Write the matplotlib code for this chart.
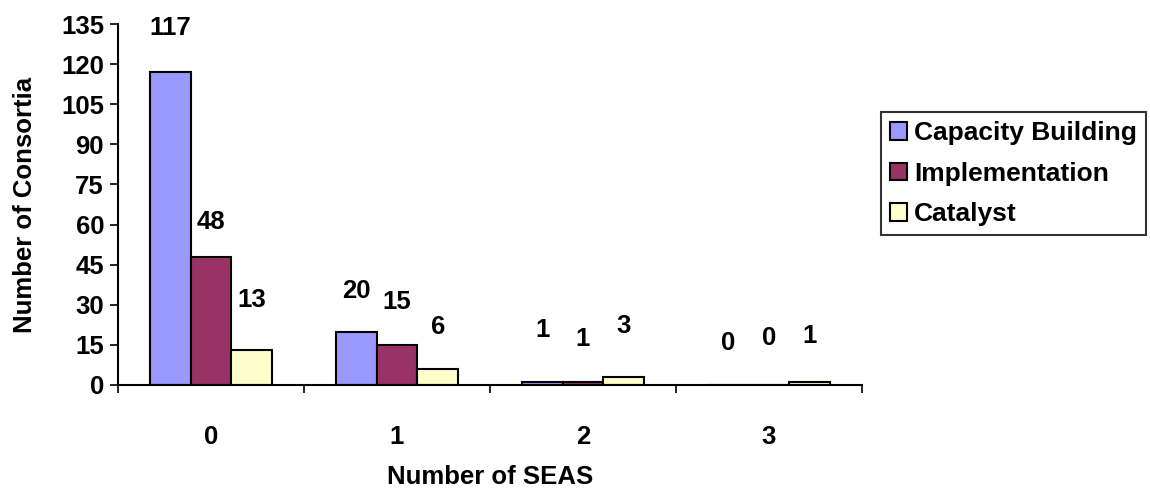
import numpy as np
import matplotlib.pyplot as plt

plt.rcParams['font.family'] = ['Liberation Sans', 'DejaVu Sans']
plt.rcParams['font.weight'] = 'bold'

seas = ['0', '1', '2', '3']
capacity = [117, 20, 1, 0]
implementation = [48, 15, 1, 0]
catalyst = [13, 6, 3, 1]

series = [('Capacity Building', capacity, '#9999FF'),
          ('Implementation', implementation, '#993366'),
          ('Catalyst', catalyst, '#FFFFCC')]

# label offsets above each bar (points), per series
label_dy = [[32, 29, 38, 30],
            [25, 31, 31, 34],
            [36, 30, 37, 33]]

fs = 18.5

fig = plt.figure(figsize=(11.5, 4.92), dpi=100)
ax = fig.add_axes([0.1026, 0.2175, 0.6470, 0.7335])

x = np.arange(len(seas))
w = 0.22
for i, (name, vals, col) in enumerate(series):
    pos = x + (i - 1) * w
    ax.bar(pos, vals, w, color=col, edgecolor='black', linewidth=1.5, label=name)
    for j, v in enumerate(vals):
        ax.annotate(str(v), (pos[j], v), xytext=(0, label_dy[i][j]),
                    textcoords='offset points', ha='center', va='center',
                    fontsize=fs, fontweight='bold')

ax.set_xlim(-0.5, len(seas) - 0.5)
ax.set_ylim(0, 135)
ax.set_yticks(np.arange(0, 136, 15))
ax.set_xticks(x)
ax.set_xticklabels(seas)
ax.set_xticks(np.arange(-0.5, len(seas)), minor=True)
ax.tick_params(axis='x', which='major', length=0, pad=29, labelsize=fs)
ax.tick_params(axis='x', which='minor', length=6, width=1.2, direction='out')
ax.tick_params(axis='y', length=6, width=1.2, direction='out', labelsize=fs, pad=4)
for s in ['top', 'right']:
    ax.spines[s].set_visible(False)
for s in ['left', 'bottom']:
    ax.spines[s].set_linewidth(1.5)

ax.set_xlabel('Number of SEAS', fontsize=fs, fontweight='bold', labelpad=11)
ax.set_ylabel('Number of Consortia', fontsize=fs, fontweight='bold', labelpad=17)

leg = fig.legend(loc='upper left', bbox_to_anchor=(0.766, 0.772), fontsize=19,
                 frameon=True, fancybox=False, edgecolor='black',
                 handlelength=0.65, handleheight=0.65, handletextpad=0.25,
                 borderpad=0.35, labelspacing=0.62, borderaxespad=0)
leg.get_frame().set_linewidth(1.5)

fig.savefig('out.png', dpi=100)
